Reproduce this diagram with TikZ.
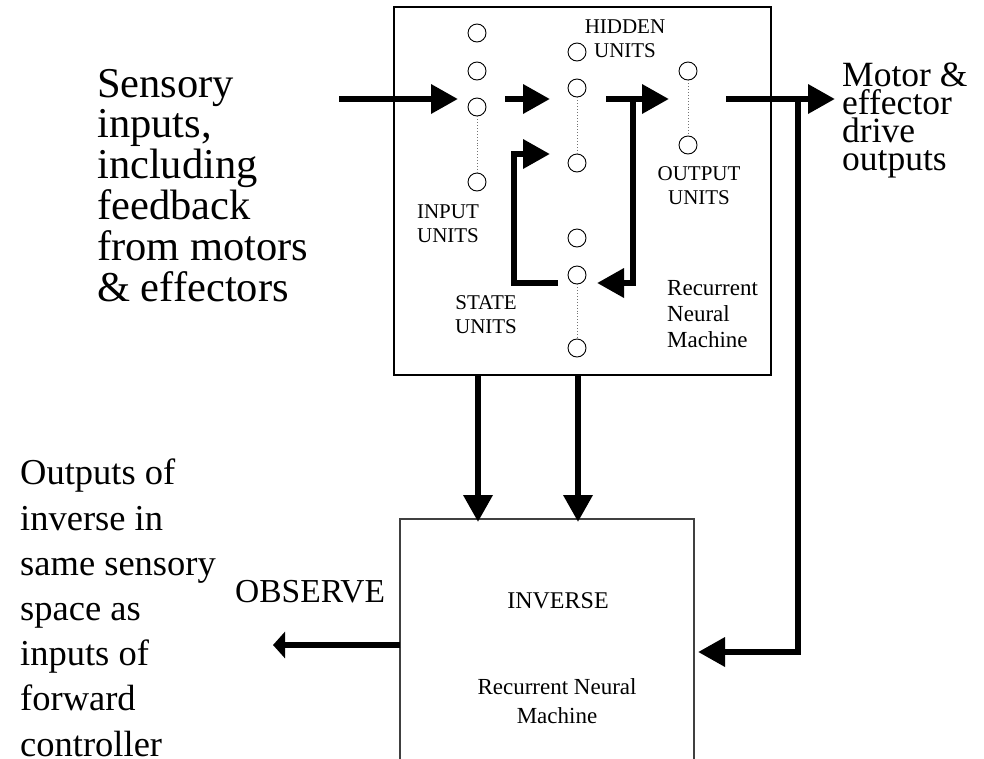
\documentclass[tikz,border=0pt]{standalone}
\usepackage{fontspec}
\setmainfont{Liberation Serif}
\usetikzlibrary{arrows.meta}
\begin{document}
\begin{tikzpicture}[x=1pt,y=-1pt,
  unit/.style={circle,draw,line width=0.9pt,minimum size=18pt,inner sep=0pt},
  link/.style={draw=black!55,line width=0.9pt,dotted},
  flow/.style={line width=6.5pt,-{Triangle[length=27pt,width=28pt]},line join=miter},
  obsflow/.style={line width=6.5pt,-{Triangle[length=12pt,width=26pt]}},
  frame/.style={draw,line width=1.3pt,rectangle,inner sep=0pt},
  lab/.style={inner sep=0pt,align=center,anchor=base,font=\fontsize{21}{23.7}\selectfont},
  bigtext/.style={inner sep=0pt,align=left,anchor=base west}
]
\useasboundingbox (0,0) rectangle (984,758);

% boxes
\node[frame,minimum width=377pt,minimum height=368pt] (fwd) at (582.5,191) {};
\node[frame,draw=black!75,minimum width=294pt,minimum height=300pt] (inv) at (547,669) {};

% units
\node[unit] (in1) at (477,33) {};
\node[unit] (in2) at (477,71) {};
\node[unit] (in3) at (477,107) {};
\node[unit] (in4) at (477,182) {};
\node[unit] (h1) at (577,52) {};
\node[unit] (h2) at (577,88) {};
\node[unit] (h3) at (577,163) {};
\node[unit] (o1) at (688,71) {};
\node[unit] (o2) at (688,145) {};
\node[unit] (s1) at (577,238) {};
\node[unit] (s2) at (577,275) {};
\node[unit] (s3) at (577,348) {};
\draw[link] (in3) -- (in4);
\draw[link] (h2) -- (h3);
\draw[link] (o1) -- (o2);
\draw[link] (s2) -- (s3);

% labels inside forward box (anchor = baseline of last line)
\node[lab] (lhid) at (625,57) {HIDDEN\\UNITS};
\node[lab] (linp) at (448,242) {INPUT\\UNITS};
\node[lab] (lout) at (699,204) {OUTPUT\\UNITS};
\node[lab] (lsta) at (486,333) {STATE\\UNITS};
\node[inner sep=0pt,align=left,anchor=base west,font=\fontsize{23}{26}\selectfont] (lrnm) at (667,347) {Recurrent\\Neural\\Machine};

% labels inside inverse box
\node[inner sep=0pt,anchor=base,font=\fontsize{24}{29}\selectfont] (linv) at (558,608) {INVERSE};
\node[inner sep=0pt,align=center,anchor=base,font=\fontsize{23}{29}\selectfont] (linvr) at (557,723) {Recurrent Neural\\Machine};

% outer texts
\node[bigtext,font=\fontsize{42.5}{40.8}\selectfont] (tsens) at (97,301) {Sensory\\inputs,\\including\\feedback\\from motors\\\& effectors};
\node[bigtext,font=\fontsize{35.5}{27.8}\selectfont] (tmot) at (842,170) {Motor \&\\effector\\drive\\outputs};
\node[bigtext,font=\fontsize{36.5}{45.2}\selectfont] (tobs) at (20,756) {Outputs of\\inverse in\\same sensory\\space as\\inputs of\\forward\\controller};
\node[bigtext,font=\fontsize{33.5}{40}\selectfont] (obs) at (235,602) {OBSERVE};

% connector end points
\coordinate (a1s) at (339,99);  \coordinate (a1e) at (458,99);
\coordinate (a2s) at (505,99);  \coordinate (a2e) at (550,99);
\coordinate (a3s) at (606,99);  \coordinate (a3e) at (669,99);
\coordinate (fbtop) at (633,99); \coordinate (fbbot) at (633,283); \coordinate (fbe) at (597,283);
\coordinate (sts) at (558,283); \coordinate (stc1) at (514,283); \coordinate (stc2) at (514,154); \coordinate (ste) at (550,154);
\coordinate (mos) at (726,99);  \coordinate (moe) at (835,99);
\coordinate (rvt) at (798,99);  \coordinate (rvb) at (798,652); \coordinate (rve) at (698,652);
\coordinate (d1s) at (478,375); \coordinate (d1e) at (478,522);
\coordinate (d2s) at (578,375); \coordinate (d2e) at (578,522);
\coordinate (obsS) at (400,645); \coordinate (obsE) at (273,645);

% connectors
\draw[flow] (a1s) -- (a1e);
\draw[flow] (a2s) -- (a2e);
\draw[flow] (a3s) -- (a3e);
\draw[flow] (fbtop) -- (fbbot) -- (fbe);
\draw[flow] (sts) -- (stc1) -- (stc2) -- (ste);
\draw[flow] (mos) -- (moe);
\draw[flow] (rvt) -- (rvb) -- (rve);
\draw[flow] (d1s) -- (d1e);
\draw[flow] (d2s) -- (d2e);
\draw[obsflow] (obsS) -- (obsE);
\end{tikzpicture}
\end{document}
